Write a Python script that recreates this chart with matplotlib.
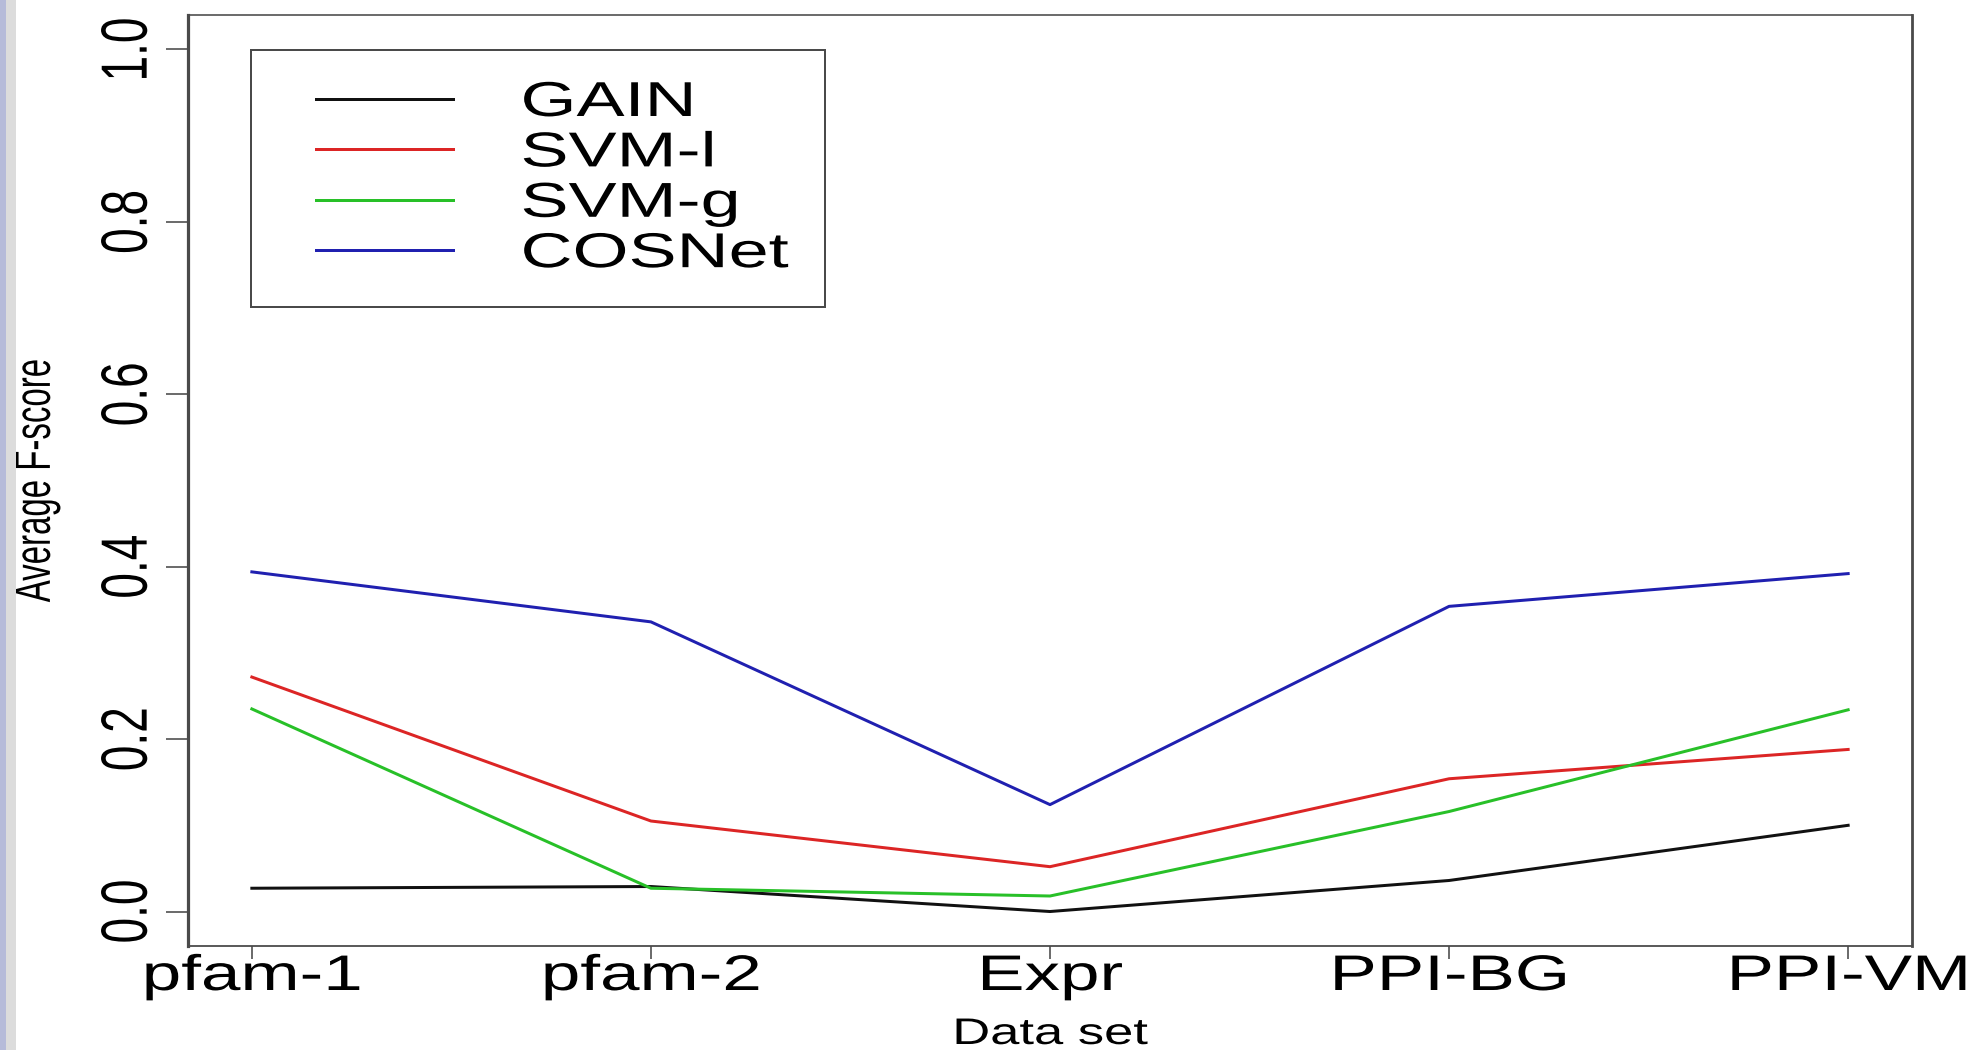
import numpy as np
import matplotlib
matplotlib.use("Agg")
import matplotlib.pyplot as plt
from matplotlib.patches import Rectangle
from matplotlib.patheffects import AbstractPathEffect
from matplotlib.transforms import Affine2D

# ---------------- data ----------------
datasets = ["pfam-1", "pfam-2", "Expr", "PPI-BG", "PPI-VM"]
series_names = ["GAIN", "SVM-l", "SVM-g", "COSNet"]
gain = [0.027, 0.029, 0.000, 0.036, 0.100]
svm_l = [0.272, 0.105, 0.052, 0.154, 0.188]
svm_g = [0.235, 0.027, 0.018, 0.116, 0.234]
cosnet = [0.394, 0.336, 0.124, 0.354, 0.392]
y_ticks = [0.0, 0.2, 0.4, 0.6, 0.8, 1.0]
y_tick_labels = ["0.0", "0.2", "0.4", "0.6", "0.8", "1.0"]
x_label = "Data set"
y_label = "Average F-score"

# ---------------- style ----------------
W, H, DPI = 1978, 1050, 100
plt.rcParams['font.family'] = ['Liberation Sans', 'DejaVu Sans']
colors = ['#111111', '#dc2525', '#28c028', '#2020b0']
SX = 1.42          # horizontal stretch of the lettering in the reference


def pt(p):
    """pixels -> points"""
    return p * 72.0 / DPI


class HStretch(AbstractPathEffect):
    """Draw text paths stretched horizontally (as in the reference image)."""

    def __init__(self, sx=SX, anchor='center'):
        super().__init__()
        self.sx = sx
        self.anchor = anchor

    def draw_path(self, renderer, gc, tpath, affine, rgbFace=None):
        v = affine.transform(tpath.vertices)
        if len(v) == 0:
            return
        x0, x1 = v[:, 0].min(), v[:, 0].max()
        if self.anchor == 'left':
            cx = x0
        elif self.anchor == 'right':
            cx = x1
        else:
            cx = 0.5 * (x0 + x1)
        t = affine + Affine2D().translate(-cx, 0).scale(self.sx, 1).translate(cx, 0)
        renderer.draw_path(gc, tpath, t, rgbFace)


fig = plt.figure(figsize=(W / DPI, H / DPI), dpi=DPI)
fig.patch.set_facecolor('white')

# left page strips
fig.add_artist(Rectangle((0, 0), 6 / W, 1, transform=fig.transFigure,
                         fc='#b6bbd9', ec='none'))
fig.add_artist(Rectangle((6 / W, 0), 10 / W, 1, transform=fig.transFigure,
                         fc='#dcdcdc', ec='none'))

L, R, T, B = 188, 1912, 15, 946
ax = fig.add_axes([L / W, 1 - B / H, (R - L) / W, (B - T) / H])

x = np.arange(1, len(datasets) + 1)
for vals, name, col in zip([gain, svm_l, svm_g, cosnet], series_names, colors):
    ax.plot(x, vals, color=col, lw=pt(3.0), label=name)

ax.set_xlim(0.84, 5.16)
ax.set_ylim(-0.04, 1.04)

spine_col = '#4a4a4a'
for side, w in [('left', 3.2), ('right', 2.8), ('top', 1.6), ('bottom', 1.8)]:
    ax.spines[side].set_color(spine_col)
    ax.spines[side].set_linewidth(pt(w))

ax.set_xticks(x, datasets, fontsize=pt(50))
ax.set_yticks(y_ticks, y_tick_labels, fontsize=pt(46), rotation=90,
              ha='center', va='center')
ax.tick_params(axis='x', length=pt(13), width=pt(1.6), color=spine_col,
               pad=pt(-5))
ax.tick_params(axis='y', length=pt(22), width=pt(1.6), color=spine_col,
               pad=pt(38))

ax.set_xlabel(x_label, fontsize=pt(37))
ax.xaxis.set_label_coords(0.5, (B - 1044) / (B - T))
ax.xaxis.label.set_va('baseline')
ax.set_ylabel(y_label, fontsize=pt(33))
ax.yaxis.set_label_coords((37 - L) / (R - L), 0.5)
ax.yaxis.label.set_va('center')

for t in ax.get_xticklabels() + ax.get_yticklabels():
    t.set_path_effects([HStretch(SX)])
ax.xaxis.label.set_path_effects([HStretch(SX)])
ax.yaxis.label.set_path_effects([HStretch(1.55)])

# legend
fs_leg = 49
leg = ax.legend(loc='upper left',
                bbox_to_anchor=((316 - L) / (R - L), (B - 81) / (B - T)),
                frameon=False, fontsize=pt(fs_leg),
                handlelength=137 / fs_leg, handletextpad=67.5 / fs_leg,
                labelspacing=0.11, borderpad=0, borderaxespad=0)
for t in leg.get_texts():
    t.set_path_effects([HStretch(1.47, 'left')])

# legend frame
fx0, fx1 = (251 - L) / (R - L), (825 - L) / (R - L)
fy0, fy1 = (B - 307) / (B - T), (B - 50) / (B - T)
ax.add_patch(Rectangle((fx0, fy0), fx1 - fx0, fy1 - fy0, transform=ax.transAxes,
                       fill=False, ec=spine_col, lw=pt(2.0), zorder=5))

fig.savefig('out.png', dpi=DPI)
